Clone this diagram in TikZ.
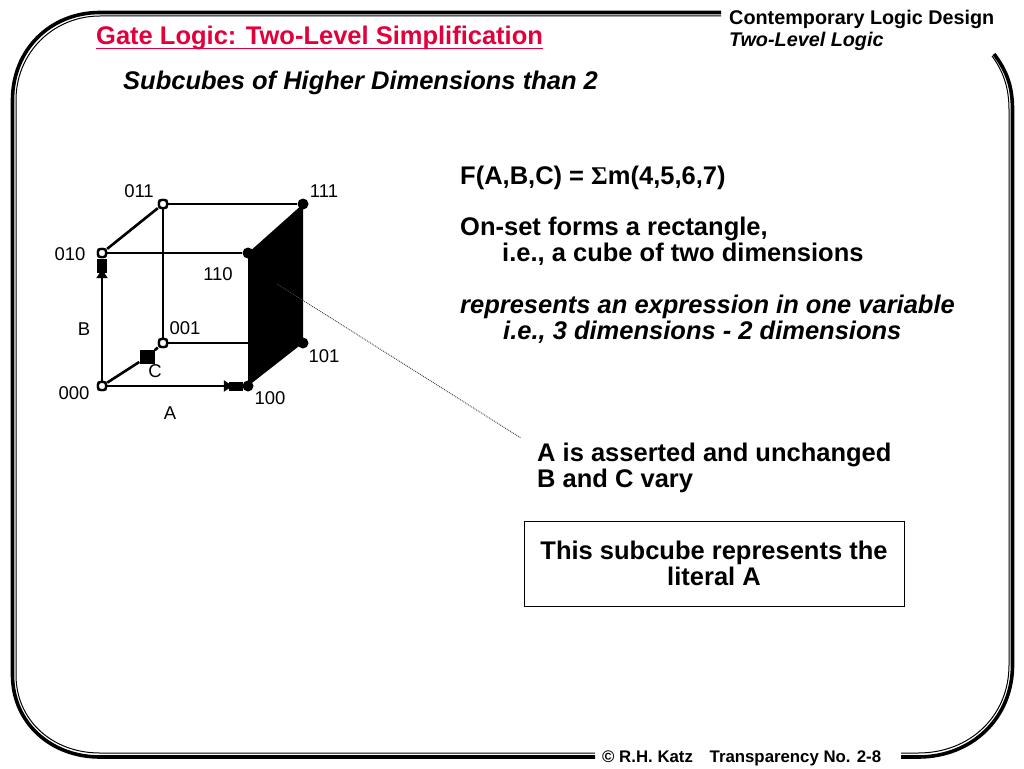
\documentclass[tikz,border=0pt]{standalone}
\usepackage{fontspec}
\setmainfont{Liberation Sans}
\newfontfamily\symfont{Liberation Serif}
\usepackage{xcolor}
\usetikzlibrary{arrows.meta, positioning}
\definecolor{titlered}{RGB}{226,0,60}

\begin{document}
\begin{tikzpicture}[
        x=1pt, y=-1pt,
        every node/.style={inner sep=0pt},
        frameouter/.style={line width=3.6pt},
        frameinner/.style={line width=1pt},
        edge/.style={line width=2.6pt},
        arr/.style={edge, -{Triangle[length=9pt, width=11pt]}, shorten >=-4pt},
        opencorner/.style={rectangle, draw, fill=white, line width=2.4pt, minimum size=8pt, rounded corners=2.5pt},
        fullcorner/.style={circle, fill=black, minimum size=11pt},
        blob/.style={rectangle, fill=black},
        bit/.style={font=\fontsize{18.5}{20}\selectfont},
        head/.style={font=\fontsize{19.8}{22}\selectfont\bfseries, anchor=base west},
        body/.style={font=\fontsize{25.5}{26}\selectfont\bfseries, align=left, anchor=base west},
        bodyit/.style={body, font=\fontsize{25.5}{26}\selectfont\bfseries\itshape},
        leader/.style={densely dotted, black!75, line width=0.9pt}
    ]
        \useasboundingbox (0,0) rectangle (1024,768);

        % frame
        \draw[frameouter] (721,12.5) -- (100,12.5) .. controls (50,12.5) and (12.5,50) .. (12.5,100) -- (12.5,675) .. controls (12.5,722) and (50,757) .. (100,757) -- (595,757);
        \draw[frameinner] (721,16) -- (100,16) .. controls (53,16) and (16,53) .. (16,100) -- (16,675) .. controls (16,720) and (52,753) .. (100,753) -- (595,753);
        \draw[frameouter] (901,757) -- (918,757) .. controls (972,757) and (1012.5,718) .. (1012.5,665) -- (1012.5,110) .. controls (1012.5,85) and (1006,70) .. (994,54);
        \draw[frameinner] (901,753) -- (918,753) .. controls (970,753) and (1009,716) .. (1009,665) -- (1009,110) .. controls (1009,87) and (1003,71) .. (992,56);

        % headings
        \node[body, text=titlered] (title) at (96,45) {Gate Logic: Two-Level Simplification};
        \draw[titlered, line width=1.6pt] ([yshift=-3.5pt]title.base west) -- ([yshift=-3.5pt]title.base east);
        \node[head] (book) at (729,25) {Contemporary Logic Design};
        \node[head, font=\fontsize{19.8}{22}\selectfont\bfseries\itshape] (chapter) at (729,47) {Two-Level Logic};
        \node[bodyit] (sub) at (123,89) {Subcubes of Higher Dimensions than 2};

        % cube corners
        \node[opencorner] (n000) at (102,386) {};
        \node[opencorner] (n010) at (102,253) {};
        \node[opencorner] (n011) at (163,204) {};
        \node[opencorner] (n001) at (163,343) {};
        \node[fullcorner] (n110) at (248,253) {};
        \node[fullcorner] (n111) at (303,204) {};
        \node[fullcorner] (n101) at (303,343) {};
        \node[fullcorner] (n100) at (248,386) {};
        \node[blob, minimum width=10pt, minimum height=14pt] (tipB) at (102,266) {};
        \node[blob, minimum width=14pt, minimum height=9pt] (tipA) at (236,386) {};
        \node[blob, minimum width=15pt, minimum height=14pt] (tipC) at (147,357) {};

        \draw[arr] (n000) -- (tipB);
        \draw[arr] (n000) -- (tipA);
        \draw[edge] (n000) -- (tipC);
        \draw[edge] (tipC) -- (n001);
        \draw[edge] (n010) -- (n011);
        \draw[edge] (n010) -- (n110);
        \draw[edge] (n011) -- (n111);
        \draw[edge] (n011) -- (n001);
        \draw[edge] (n001) -- (n101);
        \fill (n110.center) -- (n111.center) -- (n101.center) -- (n100.center) -- cycle;
        \node[opencorner] at (n000) {};
        \node[opencorner] at (n010) {};
        \node[opencorner] at (n011) {};
        \node[opencorner] at (n001) {};

        % corner labels
        \node[bit] (l011) at (139,191) {011};
        \node[bit] (l111) at (324,191) {111};
        \node[bit] (l010) at (70,254) {010};
        \node[bit] (l110) at (218,274) {110};
        \node[bit] (l001) at (185,328) {001};
        \node[bit] (l101) at (324,356) {101};
        \node[bit] (l000) at (74,393) {000};
        \node[bit] (l100) at (270,398) {100};
        \node[bit] (lA) at (170,413) {A};
        \node[bit] (lB) at (84,329) {B};
        \node[bit] (lC) at (155,371) {C};

        % text
        \node[body] (fn) at (460,184) {F(A,B,C) = {\symfont Σ}m(4,5,6,7)};
        \node[body] (onset) at (460,235) {On-set forms a rectangle,};
        \node[body] (onsetb) at (502,261) {i.e., a cube of two dimensions};
        \node[bodyit] (expr) at (460,313) {represents an expression in one variable};
        \node[bodyit] (exprb) at (503,339) {i.e., 3 dimensions - 2 dimensions};
        \node[body] (asserted) at (537,461) {A is asserted and unchanged};
        \node[body] (vary) at (537,487) {B and C vary};
        \node[draw, line width=1pt, minimum width=380pt, minimum height=85pt, align=center, font=\fontsize{25.5}{26}\selectfont\bfseries] (literal) at (714,563.5) {This subcube represents the\\literal A};

        % leader
        \coordinate (facept) at (277,284);
        \coordinate (textpt) at (521,438);
        \draw[leader] (facept) -- (textpt);

        % footer
        \node[head, font=\fontsize{16.8}{20}\selectfont\bfseries] (foot) at (602,762) {© R.H. Katz\hspace{12pt} Transparency No. 2-8};
    \end{tikzpicture}
\end{document}
